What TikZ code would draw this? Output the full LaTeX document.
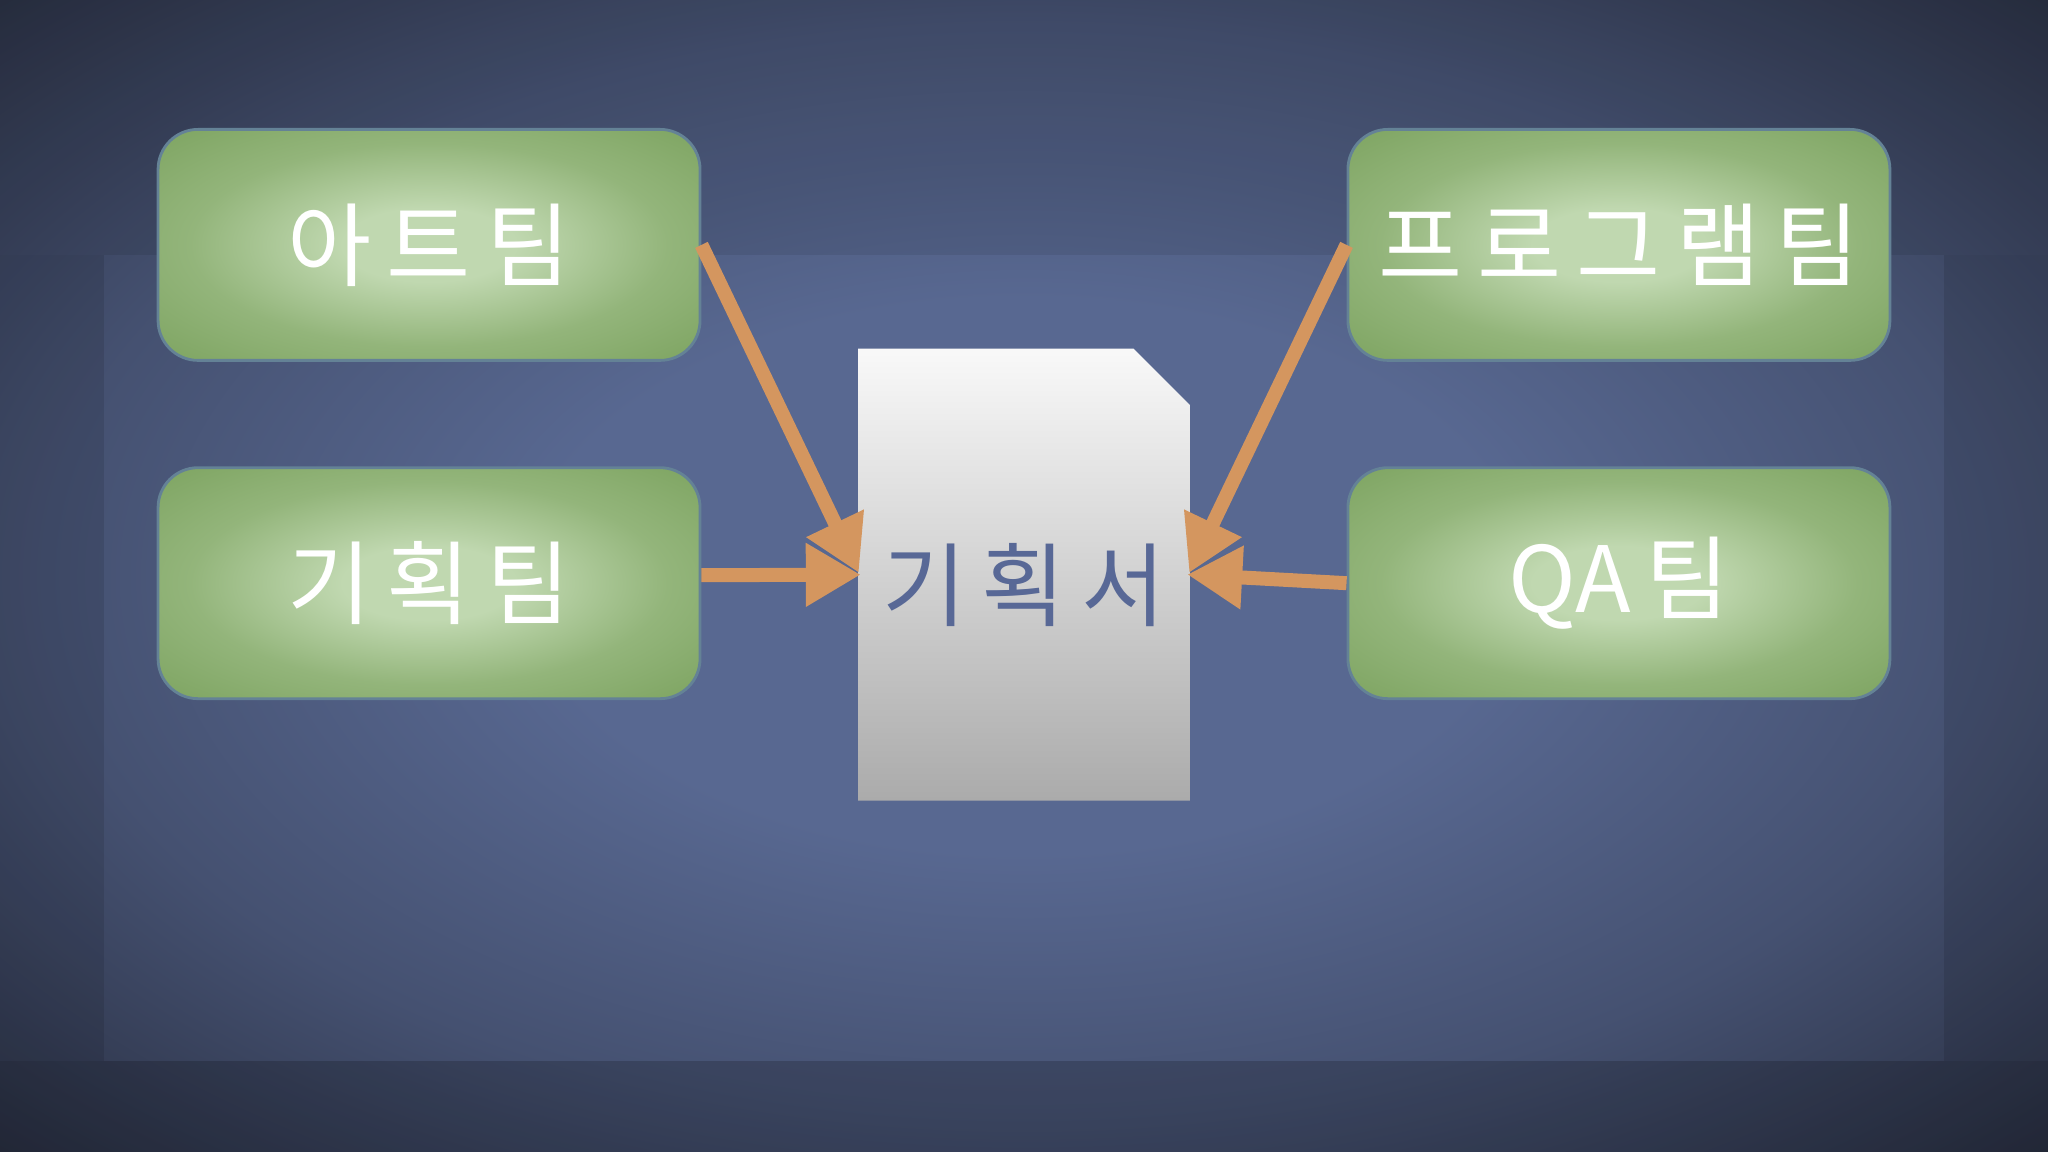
\documentclass[tikz,border=0pt]{standalone}
\usepackage{fontspec}
\setmainfont{Noto Sans CJK KR}
\usetikzlibrary{arrows.meta}
\definecolor{bgin}{RGB}{88,104,145}
\definecolor{bgout}{RGB}{40,46,64}
\definecolor{gin}{RGB}{192,216,176}
\definecolor{gout}{RGB}{128,166,100}
\definecolor{gbord}{RGB}{100,130,150}
\definecolor{arr}{RGB}{212,150,95}
\definecolor{doctext}{RGB}{88,104,150}
\pgfdeclareradialshading{bgshade}{\pgfpoint{0bp}{0bp}}{%
 color(0bp)=(bgin); color(12bp)=(bgin); color(24bp)=(bgout!40!bgin); color(36bp)=(bgout); color(50bp)=(bgout)}
\pgfdeclareradialshading{boxshade}{\pgfpoint{0bp}{0bp}}{%
 color(0bp)=(gin); color(8bp)=(gin); color(22bp)=(gout!70!gin); color(34bp)=(gout); color(50bp)=(gout)}
\tikzset{
 team/.style={rounded corners=0.4cm, minimum width=5.42cm, minimum height=2.31cm,
   shading=boxshade, draw=gbord, line width=0.8pt,
   text=white, font=\fontsize{26}{30}\selectfont},
 flow/.style={draw=arr, line width=0.14cm, -{Triangle[length=0.55cm,width=0.6cm]}, shorten >=-1pt}
}
\begin{document}
\begin{tikzpicture}[x=0.013061cm,y=-0.013061cm]
\useasboundingbox (0,0) rectangle (1568,882);
\shade[shading=bgshade] (0,0) rectangle (1568,882);
\fill[black,opacity=0.08] (0,0) rectangle (1568,195);
\fill[black,opacity=0.1] (0,195) rectangle (80,812);
\fill[black,opacity=0.1] (1488,195) rectangle (1568,812);
\fill[black,opacity=0.18] (0,812) rectangle (1568,882);
\node[team] (art) at (328.5,187.5) {아\,트\,팀};
\node[team] (plan) at (328.5,446.5) {기\,획\,팀};
\node[team] (prog) at (1239.5,187.5) {프\,로\,그\,램\,팀};
\node[team] (qa) at (1239.5,446.5) {QA\,팀};
\node[minimum width=3.32cm, minimum height=4.52cm, inner sep=0] (doc) at (784,440) {};
\shade[top color=white!95!gray, bottom color=black!33] (657,267) -- (868,267) -- (911,310) -- (911,613) -- (657,613) -- cycle;
\node[text=doctext, font=\fontsize{26}{30}\selectfont] at ([yshift=-0.1cm]doc.center) {기\,획\,서};
\draw[flow] (art.east) -- ([yshift=0.05cm]doc.west);
\draw[flow] ([yshift=0.08cm]plan.east) -- ([yshift=0.0cm]doc.west);
\draw[flow] (prog.west) -- ([yshift=0.05cm]doc.east);
\draw[flow] (qa.west) -- ([yshift=0.0cm]doc.east);
\end{tikzpicture}
\end{document}
